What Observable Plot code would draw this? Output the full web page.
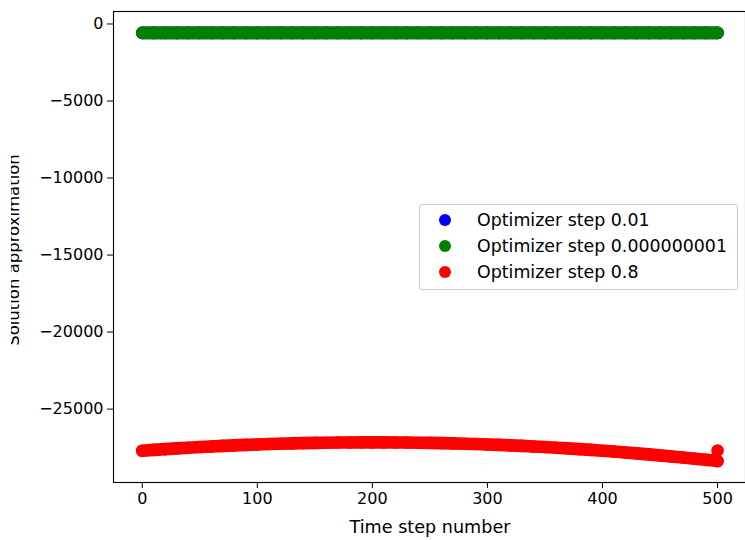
<!DOCTYPE html>
<html>
<head>
<meta charset="utf-8">
<script src="https://cdn.jsdelivr.net/npm/d3@7"></script>
<script src="https://cdn.jsdelivr.net/npm/@observablehq/plot@0.6"></script>
<style>
  html, body { margin: 0; padding: 0; background: #fff; }
  #wrap { position: relative; width: 745px; height: 540px; overflow: hidden; font-family: "DejaVu Sans", sans-serif; }
  #ylab { position: absolute; left: 11px; top: 100px; width: 14px; height: 300px; overflow: hidden; }
  #ylab span { position: absolute; left: 2.8px; top: 150px; transform: translate(-50%, -50%) rotate(-90deg); white-space: nowrap; font-size: 16.5px; line-height: 1.164; color: #000; }
  #legend { position: absolute; left: 419px; top: 204px; width: 317px; height: 84px; border: 1px solid #cccccc; border-radius: 3px; background: rgba(255,255,255,0.8); font-size: 17.4px; color: #000; }
  .row { position: absolute; left: 0; height: 22px; line-height: 22px; }
  .row .dot { position: absolute; left: 19px; top: 5px; width: 12.4px; height: 12.4px; border-radius: 50%; }
  .row .txt { position: absolute; left: 57px; top: 0; white-space: nowrap; }
</style>
</head>
<body>
<div id="wrap"></div>
<script>
// Time step numbers (sampled every 10 steps)
const steps = [0,10,20,30,40,50,60,70,80,90,100,110,120,130,140,150,160,170,180,190,200,
  210,220,230,240,250,260,270,280,290,300,310,320,330,340,350,360,370,380,390,400,
  410,420,430,440,450,460,470,480,490,500];

// Optimizer step 0.01 (hidden under green)
const blueValues = [-580,-580,-580,-580,-580,-580,-580,-580,-580,-580,-580,
  -580,-580,-580,-580,-580,-580,-580,-580,-580,-580,
  -580,-580,-580,-580,-580,-580,-580,-580,-580,-580,
  -580,-580,-580,-580,-580,-580,-580,-580,-580,-580,
  -580,-580,-580,-580,-580,-580,-580,-580,-580,-580];

// Optimizer step 0.000000001
const greenValues = [-580,-580,-580,-580,-580,-580,-580,-580,-580,-580,-580,
  -580,-580,-580,-580,-580,-580,-580,-580,-580,-580,
  -580,-580,-580,-580,-580,-580,-580,-580,-580,-580,
  -580,-580,-580,-580,-580,-580,-580,-580,-580,-580,
  -580,-580,-580,-580,-580,-580,-580,-580,-580,-580];

// Optimizer step 0.8
const redValues = [-27700,-27647,-27597,-27550,-27506,-27464,-27425,-27388,-27354,-27323,
  -27295,-27269,-27246,-27226,-27209,-27194,-27182,-27172,-27165,-27161,-27160,
  -27161,-27165,-27172,-27182,-27194,-27209,-27226,-27246,-27269,-27295,
  -27323,-27354,-27388,-27425,-27464,-27506,-27550,-27597,-27647,-27700,
  -27755,-27813,-27874,-27938,-28004,-28073,-28144,-28218,-28295,-28375];

// extra red point at the last step
const redExtraStep = [500];
const redExtraValue = [-27690];

const seriesNames = ["Optimizer step 0.01", "Optimizer step 0.000000001", "Optimizer step 0.8"];
const seriesColors = ["#0000ff", "#008000", "#ff0000"];

const xTicks = [0, 100, 200, 300, 400, 500];
const yTicks = [0, -5000, -10000, -15000, -20000, -25000];

const mk = (vals) => steps.map((s, i) => ({x: s, y: vals[i]}));
const blue = mk(blueValues);
const green = mk(greenValues);
const red = mk(redValues);
const redExtra = redExtraStep.map((s, i) => ({x: s, y: redExtraValue[i]}));

const fmt = d => d < 0 ? "\u2212" + Math.abs(d) : String(d);

const R = 6.3;
const chart = Plot.plot({
  width: 745,
  height: 540,
  marginLeft: 113,
  marginRight: 0,
  marginTop: 11,
  marginBottom: 58,
  style: {fontFamily: "DejaVu Sans, sans-serif", fontSize: "16px", color: "#000", background: "transparent"},
  x: {domain: [-25, 524.3], ticks: xTicks, tickFormat: fmt, tickSize: 6, tickPadding: 4, label: null},
  y: {domain: [-29765, 810], ticks: yTicks, tickFormat: fmt, tickSize: 6, tickPadding: 4, label: null},
  marks: [
    Plot.line(blue, {x: "x", y: "y", stroke: seriesColors[0], strokeWidth: 2*R, strokeLinecap: "round"}),
    Plot.dot(blue, {x: "x", y: "y", r: R, fill: seriesColors[0], stroke: "none"}),
    Plot.line(green, {x: "x", y: "y", stroke: seriesColors[1], strokeWidth: 2*R, strokeLinecap: "round"}),
    Plot.dot(green, {x: "x", y: "y", r: R, fill: seriesColors[1], stroke: "none"}),
    Plot.line(red, {x: "x", y: "y", stroke: seriesColors[2], strokeWidth: 2*R, strokeLinecap: "round"}),
    Plot.dot(red, {x: "x", y: "y", r: R, fill: seriesColors[2], stroke: "none"}),
    Plot.dot(redExtra, {x: "x", y: "y", r: R, fill: seriesColors[2], stroke: "none"}),
    Plot.frame({stroke: "#000", strokeWidth: 1.1})
  ]
});

const wrap = document.getElementById("wrap");
wrap.appendChild(chart);

// x axis label
const xl = document.createElement("div");
xl.textContent = "Time step number";
xl.style.cssText = "position:absolute;left:430px;top:527px;transform:translate(-50%,-50%);font-size:17.6px;white-space:nowrap;color:#000;";
wrap.appendChild(xl);

// y axis label (clipped at the left as in the reference)
const yl = document.createElement("div");
yl.id = "ylab";
const ys = document.createElement("span");
ys.textContent = "Solution approximation";
yl.appendChild(ys);
wrap.appendChild(yl);

// legend
const lg = document.createElement("div");
lg.id = "legend";
const rowTops = [4, 30, 56];
seriesNames.forEach((name, i) => {
  const row = document.createElement("div");
  row.className = "row";
  row.style.top = rowTops[i] + "px";
  const dot = document.createElement("span");
  dot.className = "dot";
  dot.style.background = seriesColors[i];
  const t = document.createElement("span");
  t.className = "txt";
  t.textContent = name;
  row.appendChild(dot);
  row.appendChild(t);
  lg.appendChild(row);
});
wrap.appendChild(lg);
</script>
</body>
</html>
